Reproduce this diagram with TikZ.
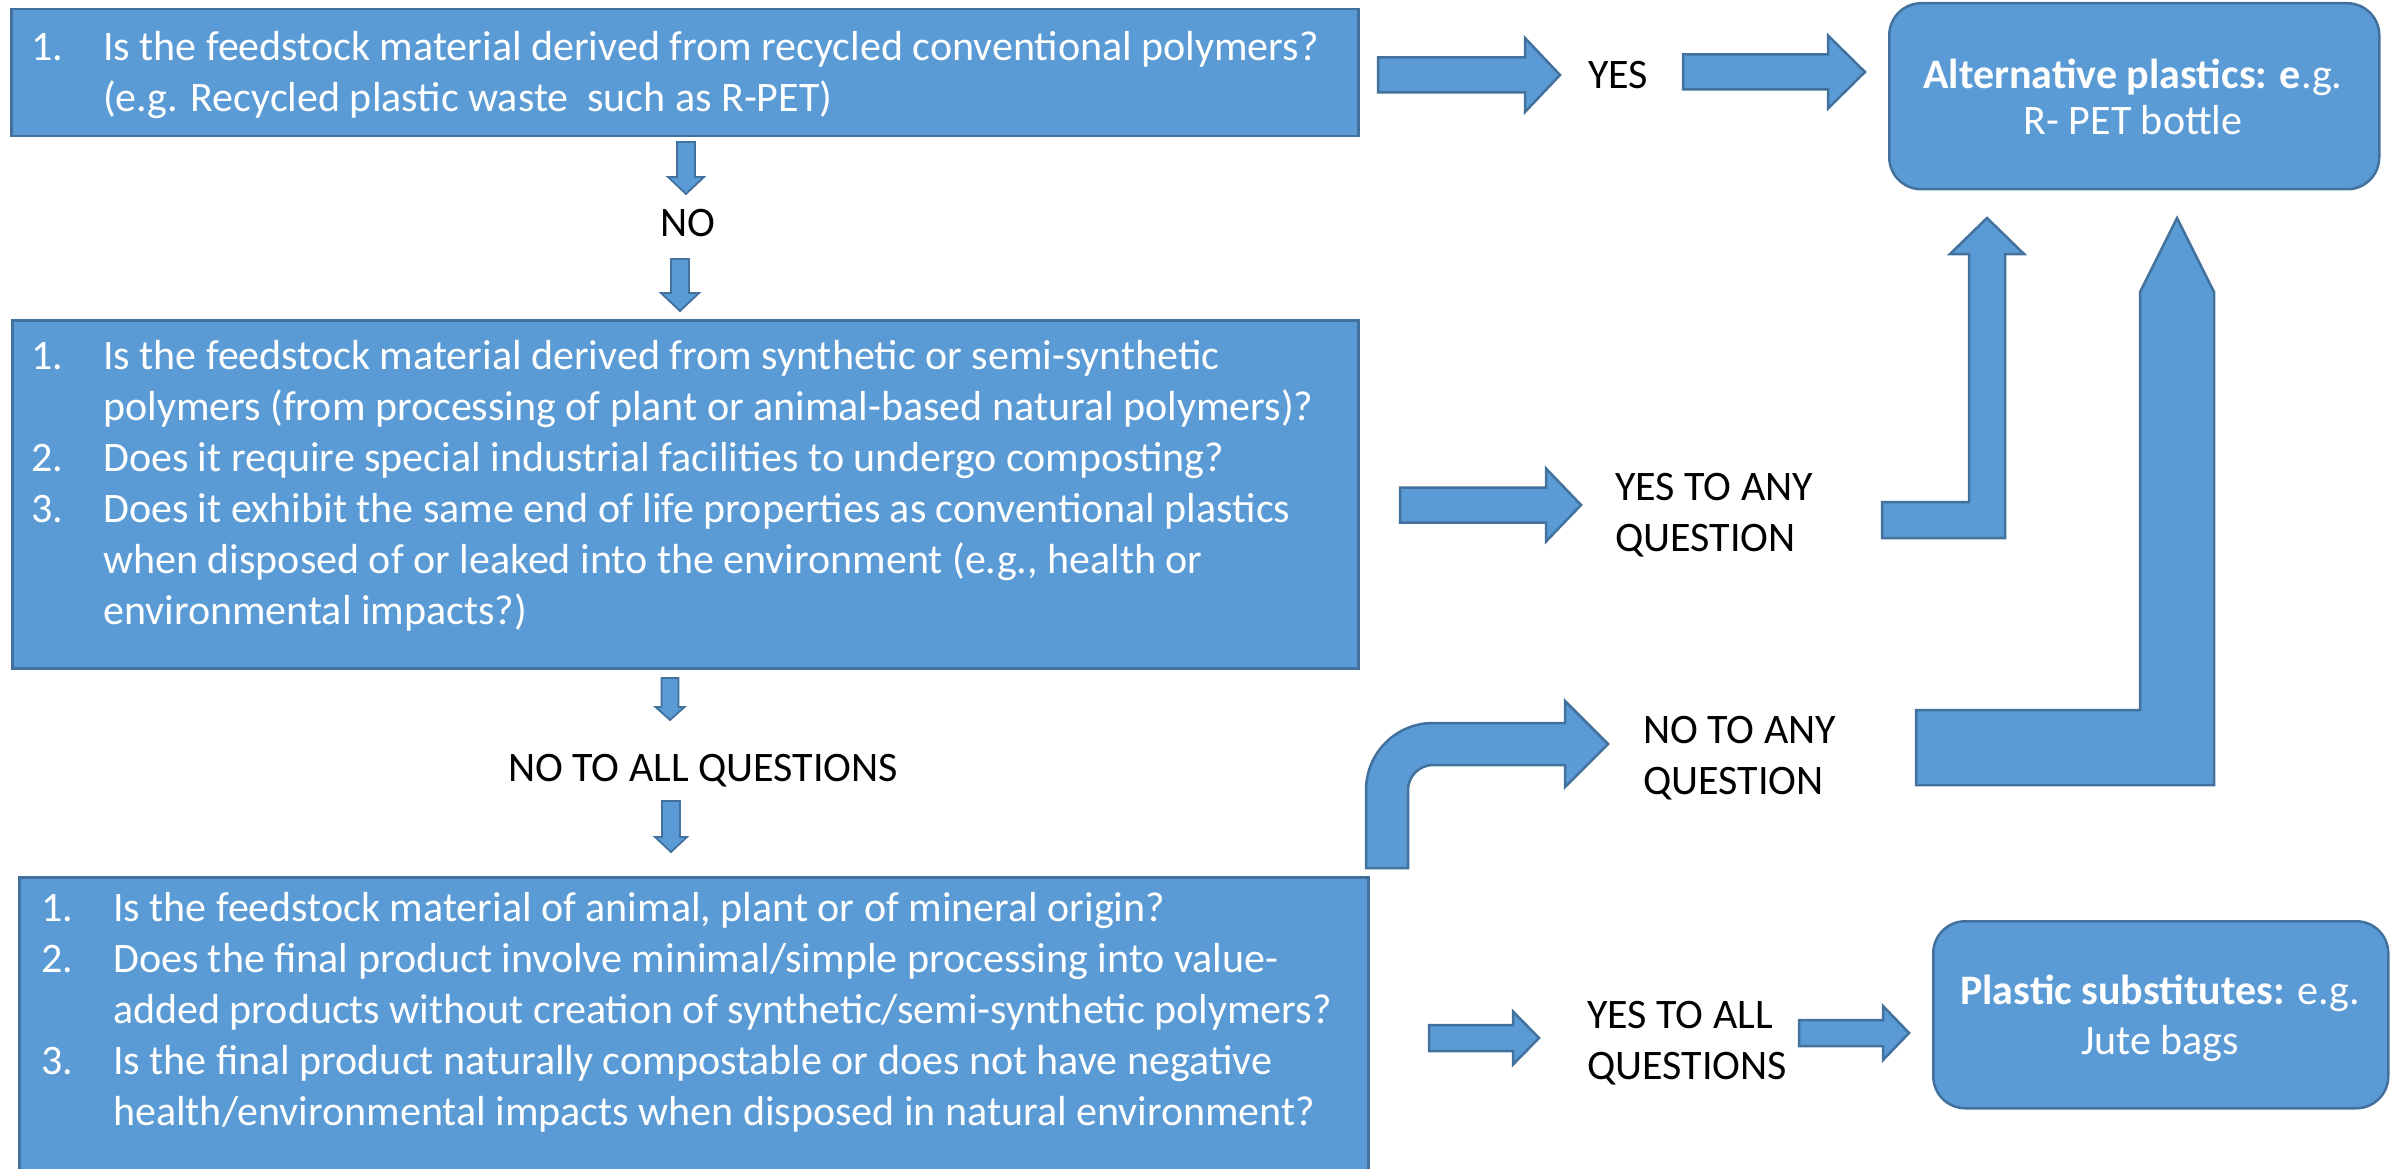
\documentclass[tikz,border=0pt]{standalone}
\usepackage{fontspec}
\setmainfont{Carlito}
\usepackage{array}
\definecolor{boxfill}{HTML}{5B9BD5}
\definecolor{boxline}{HTML}{41719C}
\newcommand\qfont{\fontsize{42}{51}\selectfont}
\newcommand\blockright[6]{\draw[blk] (#1,{#4-#5}) -- (#2,{#4-#5}) -- (#2,{#4-#6}) -- (#3,#4) -- (#2,{#4+#6}) -- (#2,{#4+#5}) -- (#1,{#4+#5}) -- cycle;}
\newcommand\blockdown[6]{\draw[blk,line width=1.8pt] ({#1-#5},#2) -- ({#1+#5},#2) -- ({#1+#5},#3) -- ({#1+#6},#3) -- (#1,#4) -- ({#1-#6},#3) -- ({#1-#5},#3) -- cycle;}
\tikzset{
  blk/.style={fill=boxfill, draw=boxline, line width=2.5pt, line join=miter},
  qbox/.style={blk, rectangle, inner sep=0pt, anchor=north west},
  rbox/.style={blk, rectangle, rounded corners=32pt, inner sep=0pt, anchor=north west},
  qtext/.style={text=white, inner sep=0pt, anchor=base west, font=\qfont},
  lbl/.style={text=black, inner sep=0pt, font=\qfont},
}
\begin{document}
\begin{tikzpicture}[x=1pt,y=-1pt]
\useasboundingbox (0,0) rectangle (2397,1169);
% question boxes
\node[qbox, minimum width=1347pt, minimum height=127pt] (box1) at (10,8) {};
\node[qtext] (box1text) at (31,61) {\begin{tabular}[t]{@{}p{72pt}@{}l@{}}
1. & Is the feedstock material derived from recycled conventional polymers?\\
 & (e.g. Recycled plastic waste\ \ such as R-PET)
\end{tabular}};
\node[qbox, minimum width=1346pt, minimum height=348pt] (box2) at (11,319) {};
\node[qtext] (box2text) at (31,369) {\begin{tabular}[t]{@{}p{72pt}@{}l@{}}
1. & Is the feedstock material derived from synthetic or semi-synthetic\\
 & polymers (from processing of plant or animal-based natural polymers)?\\
2. & Does it require special industrial facilities to undergo composting?\\
3. & Does it exhibit the same end of life properties as conventional plastics\\
 & when disposed of or leaked into the environment (e.g., health or\\
 & environmental impacts?)
\end{tabular}};
\node[qbox, minimum width=1349pt, minimum height=310pt] (box3) at (18,876) {};
\node[qtext] (box3text) at (41,921) {\begin{tabular}[t]{@{}p{72pt}@{}l@{}}
1. & Is the feedstock material of animal, plant or of mineral origin?\\
2. & Does the final product involve minimal/simple processing into value-\\
 & added products without creation of synthetic/semi-synthetic polymers?\\
3. & Is the final product naturally compostable or does not have negative\\
 & health/environmental impacts when disposed in natural environment?
\end{tabular}};
% outcome boxes
\node[rbox, minimum width=490pt, minimum height=186pt] (alt) at (1888,2) {};
\node[text=white, inner sep=0pt, align=center, font=\fontsize{42}{46}\selectfont, anchor=base] (alttext) at (2133,135) {\textbf{Alternative plastics: e}.g.\\R- PET bottle};
\node[rbox, minimum width=455pt, minimum height=187pt] (sub) at (1932,920) {};
\node[text=white, inner sep=0pt, align=center, font=\fontsize{42}{50}\selectfont, anchor=base] (subtext) at (2160,1054) {\textbf{Plastic substitutes:} e.g.\\Jute bags};
% labels
\node[lbl, anchor=base] (no) at (688,236) {NO};
\node[lbl, anchor=base] (noall) at (703,781) {NO TO ALL QUESTIONS};
\node[lbl, anchor=base] (yes) at (1618,89) {YES};
\node[lbl, anchor=base west, align=left] (yesany) at (1615,551) {YES TO ANY\\QUESTION};
\node[lbl, anchor=base west, align=left] (noany) at (1643,794) {NO TO ANY\\QUESTION};
\node[lbl, anchor=base west, align=left] (yesall) at (1587,1079) {YES TO ALL\\QUESTIONS};
% down arrows
\blockdown{686}{142}{177}{194}{9}{18}
\blockdown{680}{259}{293}{311}{9}{19}
\blockdown{670}{678}{707}{720}{8.5}{14.5}
\blockdown{671}{801}{837}{852}{9}{16}
% right arrows
\blockright{1378}{1525}{1560}{75}{17.5}{37}
\blockright{1683}{1828}{1865}{72}{17.5}{36.5}
\blockright{1400}{1546}{1581}{505}{17.5}{36.5}
\blockright{1429}{1513}{1539}{1038}{13}{26.5}
\blockright{1799}{1883}{1909}{1033}{13}{27}
% bent-up arrows
\draw[blk] (1882,502) -- (1969,502) -- (1969,254) -- (1950,254) -- (1987,218) -- (2024,254) -- (2005,254) -- (2005,538) -- (1882,538) -- cycle;
\draw[blk] (1916,710) -- (2140,710) -- (2140,292) -- (2177,218) -- (2214,292) -- (2214,785) -- (1916,785) -- cycle;
% curved arrow
\draw[blk] (1366,868) -- (1366,790) arc[start angle=180, end angle=90, radius=67pt] -- (1565,723) -- (1565,701) -- (1608,744) -- (1565,787) -- (1565,765) -- (1433,765) arc[start angle=90, end angle=180, radius=25pt] -- (1408,868) -- cycle;
\end{tikzpicture}
\end{document}
